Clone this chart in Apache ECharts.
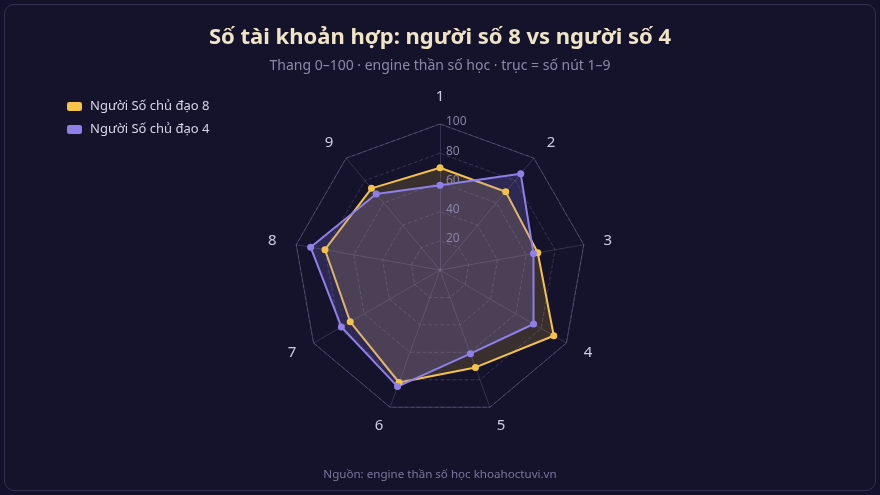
<!DOCTYPE html>
<html>
<head>
<meta charset="utf-8">
<script src="https://cdn.jsdelivr.net/npm/echarts@6/dist/echarts.min.js"></script>
<style>
  html,body{margin:0;padding:0;background:#14112a;}
  #box{position:absolute;left:4px;top:4px;width:870px;height:485px;border:1px solid #34304f;border-radius:10px;background:#15122b;}
  #main{width:880px;height:495px;position:absolute;left:0;top:0;}
</style>
</head>
<body>
<div id="box"></div>
<div id="main"></div>
<script>
  // truc = so nut 1-9
  var axisNames = ['1','2','3','4','5','6','7','8','9'];
  var seriesNames = ['Người Số chủ đạo 8','Người Số chủ đạo 4'];
  var valuesSo8 = [70, 70, 68, 90, 71, 82, 71, 80, 73];
  var valuesSo4 = [58, 86, 65, 74, 61, 85, 78, 90, 68];
  var maxValue = 100;

  var font = '"Noto Sans", "Open Sans", sans-serif';

  // radar cua echarts di nguoc chieu kim dong ho -> dao thu tu (1,9,8,...,2) de ve theo chieu kim dong ho
  function cw(arr){
    var out = [arr[0]];
    for (var i = arr.length - 1; i > 0; i--) out.push(arr[i]);
    return out;
  }
  var indicator = [];
  var names = cw(axisNames);
  for (var i = 0; i < names.length; i++) {
    indicator.push({name: names[i], max: maxValue, min: 0});
  }

  var myChart = echarts.init(document.getElementById('main'));
  var option = {
    backgroundColor: 'transparent',
    textStyle: {fontFamily: font},
    title: [
      {
        text: 'Số tài khoản hợp: người số 8 vs người số 4',
        subtext: 'Thang 0–100 · engine thần số học · trục = số nút 1–9',
        left: 'center',
        top: 22,
        itemGap: 10,
        textStyle: {color: '#efe5c6', fontSize: 22, fontWeight: 'bold', fontFamily: font},
        subtextStyle: {color: '#8d88a8', fontSize: 14, fontFamily: font}
      },
      {
        text: 'Nguồn: engine thần số học khoahoctuvi.vn',
        left: 'center',
        top: 464,
        textStyle: {color: '#7c779c', fontSize: 11.6, fontWeight: 'normal', fontFamily: font}
      }
    ],
    legend: {
      orient: 'vertical',
      left: 62,
      top: 95,
      itemWidth: 15,
      itemHeight: 9,
      itemGap: 10,
      icon: 'roundRect',
      textStyle: {color: '#d9d5e8', fontSize: 13, fontFamily: font, padding: [0, 0, 0, 3]},
      data: seriesNames
    },
    radar: [
      {
        center: [440, 270],
        radius: 146,
        splitNumber: 5,
        shape: 'polygon',
        startAngle: 90,
        indicator: indicator,
        axisName: {color: '#cfcbe0', fontSize: 15, fontFamily: font},
        nameGap: 20,
        axisLine: {lineStyle: {color: 'rgba(150,145,185,0.25)', width: 1}},
        splitLine: {lineStyle: {color: 'rgba(150,145,185,0.28)', type: 'dashed', width: 1}},
        splitArea: {show: false},
        axisLabel: {show: false}
      },
      {
        center: [440, 270],
        radius: 146,
        splitNumber: 1,
        shape: 'polygon',
        startAngle: 90,
        indicator: indicator,
        axisName: {show: false},
        axisLine: {show: false},
        splitLine: {lineStyle: {color: 'rgba(150,145,185,0.3)', width: 1}},
        splitArea: {show: false}
      }
    ],
    series: [
      {
        type: 'radar',
        radarIndex: 0,
        symbol: 'circle',
        symbolSize: 7,
        data: [
          {
            name: seriesNames[0],
            value: cw(valuesSo8),
            itemStyle: {color: '#f5c34a'},
            lineStyle: {color: '#f5c34a', width: 2},
            areaStyle: {color: 'rgba(245,195,74,0.24)'}
          },
          {
            name: seriesNames[1],
            value: cw(valuesSo4),
            itemStyle: {color: '#8f80e8'},
            lineStyle: {color: '#8f80e8', width: 2},
            areaStyle: {color: 'rgba(143,128,232,0.3)'}
          }
        ]
      }
    ]
  };
  myChart.setOption(option);

  // nhan 20..100 tren truc 1
  var ticks = [20, 40, 60, 80, 100];
  var gr = [];
  for (var k = 0; k < ticks.length; k++) {
    gr.push({
      type: 'text',
      left: 446,
      top: 270 - 146 * ticks[k] / maxValue - 8,
      style: {text: String(ticks[k]), fill: '#8a84a6', fontSize: 12, fontFamily: font},
      z: 10
    });
  }
  myChart.setOption({graphic: gr});
</script>
</body>
</html>
